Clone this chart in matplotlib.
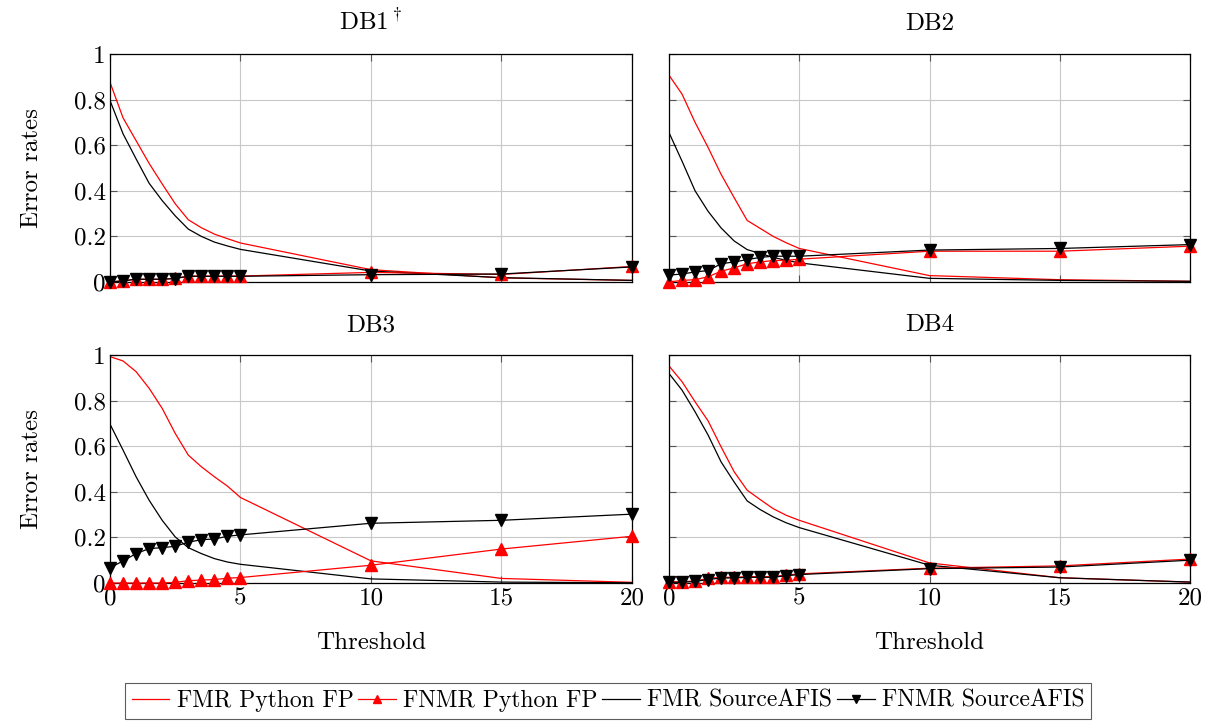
import matplotlib
matplotlib.use('Agg')
import matplotlib.pyplot as plt

plt.rcParams['font.family'] = ['cmr10', 'DejaVu Serif']
plt.rcParams['mathtext.fontset'] = 'cm'
plt.rcParams['axes.unicode_minus'] = False
plt.rcParams['font.size'] = 18

# thresholds
thr = [0, 0.5, 1, 1.5, 2, 2.5, 3, 3.5, 4, 4.5, 5, 10, 15, 20]

titles = [r'DB1$^\dagger$', 'DB2', 'DB3', 'DB4']

# FMR Python FP
fmr_py = [
    [0.876, 0.72, 0.62, 0.52, 0.43, 0.343, 0.273, 0.238, 0.21, 0.19, 0.171, 0.054, 0.018, 0.007],
    [0.907, 0.824, 0.70, 0.59, 0.472, 0.37, 0.27, 0.235, 0.20, 0.172, 0.147, 0.028, 0.01, 0.003],
    [0.993, 0.974, 0.927, 0.854, 0.766, 0.656, 0.561, 0.51, 0.466, 0.425, 0.375, 0.097, 0.02, 0.003],
    [0.952, 0.883, 0.795, 0.711, 0.597, 0.488, 0.407, 0.366, 0.326, 0.297, 0.275, 0.088, 0.023, 0.004],
]
# FNMR Python FP
fnmr_py = [
    [0.0, 0.005, 0.012, 0.012, 0.012, 0.016, 0.026, 0.026, 0.026, 0.026, 0.026, 0.042, 0.033, 0.068],
    [0.0, 0.007, 0.01, 0.023, 0.047, 0.062, 0.08, 0.088, 0.094, 0.095, 0.10, 0.135, 0.135, 0.157],
    [0.0, 0.0, 0.0, 0.0, 0.0, 0.003, 0.01, 0.013, 0.015, 0.021, 0.024, 0.078, 0.149, 0.205],
    [0.005, 0.005, 0.009, 0.02, 0.025, 0.025, 0.028, 0.028, 0.028, 0.035, 0.04, 0.065, 0.075, 0.105],
]
# FMR SourceAFIS
fmr_sa = [
    [0.796, 0.65, 0.54, 0.433, 0.357, 0.29, 0.232, 0.20, 0.175, 0.158, 0.143, 0.048, 0.019, 0.007],
    [0.655, 0.53, 0.40, 0.31, 0.237, 0.18, 0.142, 0.125, 0.108, 0.095, 0.084, 0.016, 0.007, 0.003],
    [0.697, 0.583, 0.466, 0.363, 0.275, 0.202, 0.155, 0.129, 0.107, 0.092, 0.082, 0.018, 0.004, 0.001],
    [0.919, 0.846, 0.751, 0.649, 0.531, 0.443, 0.36, 0.322, 0.29, 0.264, 0.243, 0.078, 0.023, 0.004],
]
# FNMR SourceAFIS
fnmr_sa = [
    [0.0, 0.005, 0.012, 0.012, 0.012, 0.015, 0.025, 0.025, 0.025, 0.025, 0.025, 0.032, 0.035, 0.066],
    [0.03, 0.035, 0.044, 0.05, 0.08, 0.088, 0.098, 0.108, 0.113, 0.113, 0.113, 0.14, 0.147, 0.164],
    [0.066, 0.097, 0.129, 0.151, 0.155, 0.161, 0.179, 0.19, 0.193, 0.205, 0.211, 0.262, 0.275, 0.302],
    [0.003, 0.003, 0.007, 0.015, 0.022, 0.022, 0.025, 0.025, 0.025, 0.032, 0.037, 0.063, 0.07, 0.10],
]

xticks = [0, 5, 10, 15, 20]
yticks = [0, 0.2, 0.4, 0.6, 0.8, 1]
ylabels = ['0', '0.2', '0.4', '0.6', '0.8', '1']

fig = plt.figure(figsize=(12.1, 7.21), dpi=100)
boxes = [
    [0.0909, 0.6089, 0.4314, 0.3162],
    [0.5529, 0.6089, 0.4306, 0.3162],
    [0.0909, 0.1914, 0.4314, 0.3162],
    [0.5529, 0.1914, 0.4306, 0.3162],
]

handles = None
for i in range(4):
    ax = fig.add_axes(boxes[i])
    h1, = ax.plot(thr, fmr_py[i], color='red', lw=0.9, label='FMR Python FP')
    h2, = ax.plot(thr, fnmr_py[i], color='red', lw=0.9, marker='^', ms=8,
                  label='FNMR Python FP', clip_on=False, zorder=3)
    h3, = ax.plot(thr, fmr_sa[i], color='black', lw=0.9, label='FMR SourceAFIS')
    h4, = ax.plot(thr, fnmr_sa[i], color='black', lw=0.9, marker='v', ms=8,
                  label='FNMR SourceAFIS', clip_on=False, zorder=4)
    handles = [h1, h2, h3, h4]
    ax.set_xlim(0, 20)
    ax.set_ylim(0, 1)
    ax.set_xticks(xticks)
    ax.set_yticks(yticks)
    ax.grid(True, color='#c8c8c8', lw=0.8)
    ax.set_axisbelow(True)
    ax.tick_params(direction='in', top=True, right=True, length=5,
                   color='#555555', labelsize=18, pad=3)
    for s in ax.spines.values():
        s.set_linewidth(0.9)
    ax.set_title(titles[i], fontsize=18, pad=17)
    if i % 2 == 0:
        ax.set_yticklabels(ylabels)
        ax.set_ylabel('Error rates', fontsize=18, labelpad=22)
    else:
        ax.set_yticklabels([])
    if i >= 2:
        ax.set_xticklabels([str(t) for t in xticks])
        ax.set_xlabel('Threshold', fontsize=18, labelpad=16)
    else:
        ax.set_xticklabels([])

leg = fig.legend(handles=handles, loc='center', bbox_to_anchor=(0.5025, 0.028),
                 ncol=4, frameon=True, fancybox=False, edgecolor='#333333',
                 handlelength=1.6, handletextpad=0.3, columnspacing=0.2,
                 borderpad=0.3, fontsize=17, markerscale=0.7)
leg.get_frame().set_linewidth(0.8)

fig.savefig('out.png', dpi=100)
